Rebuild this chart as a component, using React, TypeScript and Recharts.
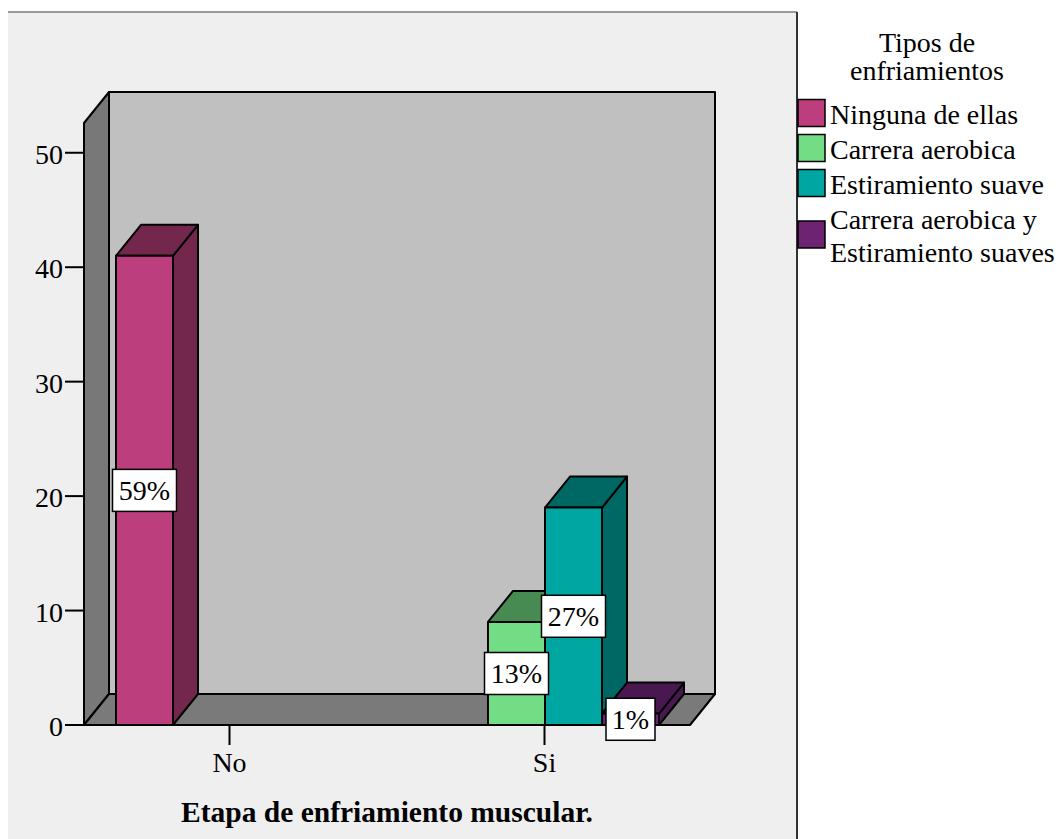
import { BarChart, Bar, XAxis, YAxis, Legend, LabelList } from 'recharts'

// Counts per cooling type, by whether a cooling stage was done
const categories = ['No', 'Si']
const ninguna = [41, 0]
const carrera = [0, 9]
const estiramiento = [0, 19]
const ambas = [0, 1]
const yTicks = [0, 10, 20, 30, 40, 50]

const seriesKeys = ['ninguna', 'carrera', 'estiramiento', 'ambas']
const seriesNames = ['Ninguna de ellas', 'Carrera aerobica', 'Estiramiento suave', 'Carrera aerobica y\nEstiramiento suaves']
const frontColors = ['#bc3e7c', '#72dd84', '#00a6a2', '#6e2272']
const shadeColors = ['#74274c', '#478a52', '#006864', '#4a1850']

const data = categories.map((cat, i) => ({
  cat,
  ninguna: ninguna[i],
  carrera: carrera[i],
  estiramiento: estiramiento[i],
  ambas: ambas[i],
}))
const total = [...ninguna, ...carrera, ...estiramiento, ...ambas].reduce((a, b) => a + b, 0)

const W = 1057
const H = 839
const FONT = '"Liberation Serif", "Times New Roman", serif'

// plot box (front plane) and 3d depth
const PLOT_LEFT = 72
const PLOT_RIGHT = 702
const PLOT_TOP = 123
const PLOT_BOTTOM = 725
const Y_AXIS_W = 60
const X_AXIS_H = 40
const LEGEND_W = 260
const FRONT_L = 84
const FRONT_R = 690
const DX = 25
const DY = 31

const Box3D = (color: number) => (props: any) => {
  const { x, y, width: w, height: h } = props
  if (!h || h <= 0) return null
  const top = `${x},${y} ${x + DX},${y - DY} ${x + w + DX},${y - DY} ${x + w},${y}`
  const side = `${x + w},${y} ${x + w + DX},${y - DY} ${x + w + DX},${y + h - DY} ${x + w},${y + h}`
  return (
    <g stroke="#000" strokeWidth={2} strokeLinejoin="round">
      <polygon points={side} fill={shadeColors[color]} />
      <polygon points={top} fill={shadeColors[color]} />
      <rect x={x} y={y} width={w} height={h} fill={frontColors[color]} />
    </g>
  )
}

const PctLabel = (props: any) => {
  const { x, y, width, height, value } = props
  if (!value) return null
  const text = `${Math.round((value / total) * 100)}%`
  const cx = x + width / 2
  const cy = y + height / 2
  const bw = text.length * 15 + 19
  return (
    <g>
      <rect x={cx - bw / 2} y={cy - 21} width={bw} height={42} fill="#fff" stroke="#000" strokeWidth={1.5} />
      <text x={cx} y={cy + 10} textAnchor="middle" fontSize={28} fontFamily={FONT} fill="#000">{text}</text>
    </g>
  )
}

const YTick = ({ y, payload }: any) => (
  <g>
    <line x1={65} x2={FRONT_L} y1={y} y2={y} stroke="#000" strokeWidth={2} />
    <text x={63} y={y + 11} textAnchor="end" fontSize={28} fontFamily={FONT} fill="#000">{payload.value}</text>
  </g>
)

const XTick = ({ x, payload }: any) => (
  <g>
    <line x1={x} x2={x} y1={PLOT_BOTTOM} y2={PLOT_BOTTOM + 20} stroke="#000" strokeWidth={2} />
    <text x={x} y={772} textAnchor="middle" fontSize={28} fontFamily={FONT} fill="#000">{payload.value}</text>
  </g>
)

const LegendBox = ({ payload }: any) => {
  const items = [...(payload || [])].sort(
    (a: any, b: any) => seriesNames.indexOf(a.value) - seriesNames.indexOf(b.value)
  )
  let baseline = 124
  const rows = items.map((entry: any, i: number) => {
    const lines = String(entry.value).split('\n')
    const first = baseline
    const last = first + (lines.length - 1) * 33
    baseline = last + 35
    const mid = (first + last) / 2 - 11
    return (
      <g key={i}>
        <rect x={1} y={mid - 13.5} width={27} height={27} fill={entry.color} stroke="#000" strokeWidth={1.5} />
        {lines.map((ln, j) => (
          <text key={j} x={33} y={first + j * 33} fontSize={28} fontFamily={FONT} fill="#000">{ln}</text>
        ))}
      </g>
    )
  })
  return (
    <svg width={LEGEND_W} height={300} style={{ display: 'block' }}>
      <text x={130} y={52} textAnchor="middle" fontSize={28} fontFamily={FONT} fill="#000">Tipos de</text>
      <text x={130} y={80} textAnchor="middle" fontSize={28} fontFamily={FONT} fill="#000">enfriamientos</text>
      {rows}
    </svg>
  )
}

// panel, walls and floor behind the bars
function Frame() {
  const bx0 = FRONT_L + DX
  const bx1 = FRONT_R + DX
  const by0 = PLOT_TOP - DY
  const by1 = PLOT_BOTTOM - DY
  return (
    <svg width={W} height={H} style={{ position: 'absolute', left: 0, top: 0 }}>
      <rect x={8} y={12} width={789} height={H - 12} fill="#efefef" />
      <line x1={8} x2={797} y1={12} y2={12} stroke="#999" strokeWidth={2} />
      <line x1={797} x2={797} y1={12} y2={H} stroke="#333" strokeWidth={2} />
      <g stroke="#000" strokeWidth={2} strokeLinejoin="round">
        <rect x={bx0} y={by0} width={bx1 - bx0} height={by1 - by0} fill="#c0c0c0" />
        <polygon points={`${FRONT_L},${PLOT_TOP} ${bx0},${by0} ${bx0},${by1} ${FRONT_L},${PLOT_BOTTOM}`} fill="#787878" />
        <polygon points={`${FRONT_L},${PLOT_BOTTOM} ${bx0},${by1} ${bx1},${by1} ${FRONT_R},${PLOT_BOTTOM}`} fill="#7a7a7a" />
      </g>
      <text x={(FRONT_L + FRONT_R) / 2} y={822} textAnchor="middle" fontSize={29.5} fontWeight="bold" fontFamily={FONT} fill="#000">
        Etapa de enfriamiento muscular.
      </text>
    </svg>
  )
}

export default function App() {
  return (
    <div style={{ position: 'absolute', left: 0, top: 0, width: W, height: H, background: '#fff', fontFamily: FONT }}>
      <Frame />
      <div style={{ position: 'absolute', left: 0, top: 0 }}>
        <BarChart
          width={W}
          height={H}
          data={data}
          barGap={0}
          barSize={57}
          // the legend's width is added to the right offset, so leave it out of the margin
          margin={{ top: PLOT_TOP, right: W - PLOT_RIGHT - LEGEND_W, bottom: H - PLOT_BOTTOM - X_AXIS_H, left: PLOT_LEFT - Y_AXIS_W }}
        >
          <XAxis dataKey="cat" height={X_AXIS_H} axisLine={false} tickLine={false} tick={<XTick />} interval={0} />
          <YAxis
            type="number"
            width={Y_AXIS_W}
            domain={[0, 52.6]}
            ticks={yTicks}
            axisLine={false}
            tickLine={false}
            tick={<YTick />}
            interval={0}
          />
          <Legend
            layout="vertical"
            verticalAlign="top"
            align="right"
            wrapperStyle={{ left: 797, top: 0, width: LEGEND_W, height: 300 }}
            content={<LegendBox />}
          />
          {seriesKeys.map((k, i) => (
            <Bar key={k} dataKey={k} name={seriesNames[i]} fill={frontColors[i]} shape={Box3D(i)} isAnimationActive={false}>
              <LabelList dataKey={k} content={<PctLabel />} />
            </Bar>
          ))}
        </BarChart>
      </div>
    </div>
  )
}
